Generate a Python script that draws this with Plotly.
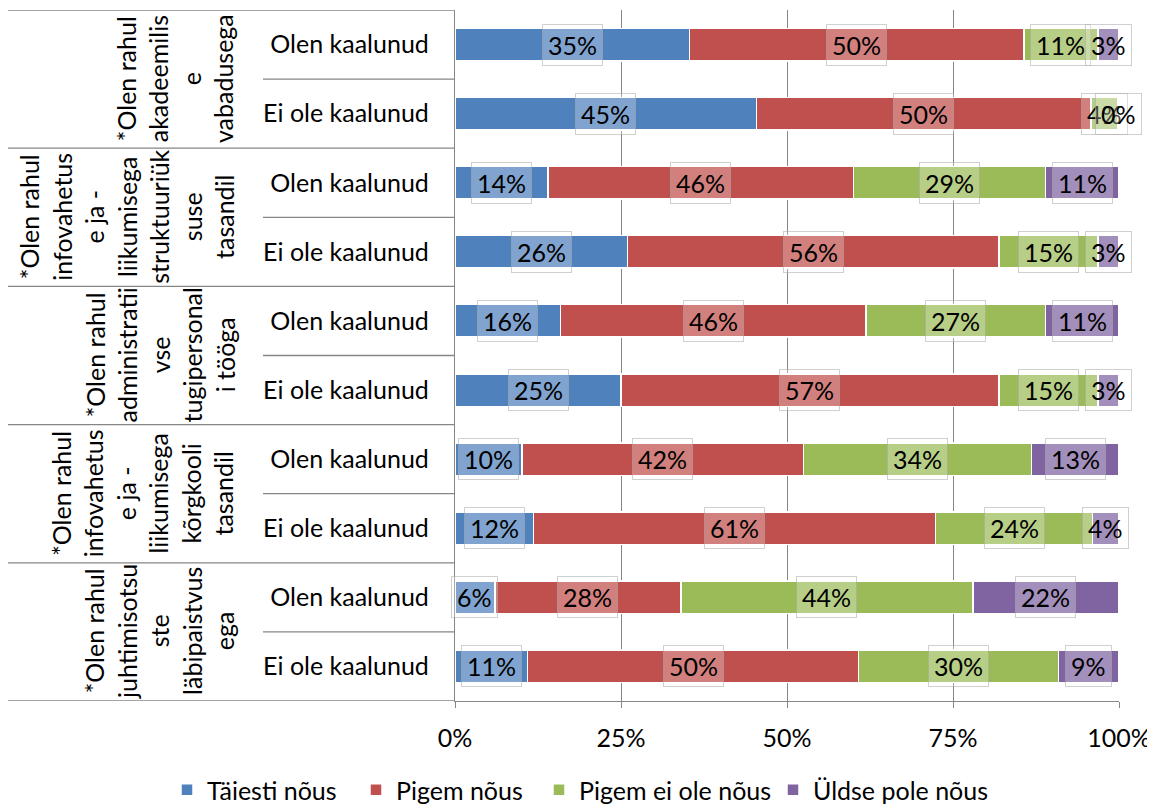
import plotly.graph_objects as go

# ---- data ----
series_names = ["Täiesti nõus", "Pigem nõus", "Pigem ei ole nõus", "Üldse pole nõus"]
series_colors = ["#4F81BD", "#C0504D", "#9BBB59", "#8064A2"]

group_labels = [
    "*Olen rahul<br>akadeemilis<br>e<br>vabadusega",
    "*Olen rahul<br>infovahetus<br>e ja -<br>liikumisega<br>struktuuriük<br>suse<br>tasandil",
    "*Olen rahul<br>administratii<br>vse<br>tugipersonal<br>i tööga",
    "*Olen rahul<br>infovahetus<br>e ja -<br>liikumisega<br>kõrgkooli<br>tasandil",
    "*Olen rahul<br>juhtimisotsu<br>ste<br>läbipaistvus<br>ega",
]
sub_labels = ["Olen kaalunud", "Ei ole kaalunud"]

# rows top -> bottom (group 1 Olen, group 1 Ei ole, group 2 Olen, ...)
taiesti = [35.3, 45.4, 14.0, 26.0, 15.9, 25.0, 10.1, 11.8, 6.0, 10.9]
pigem = [50.4, 50.4, 46.0, 55.9, 46.0, 56.9, 42.4, 60.6, 28.0, 49.9]
pigem_ei = [11.1, 4.0, 28.9, 14.9, 27.0, 14.9, 34.3, 23.6, 44.0, 30.1]
uldse = [3.2, 0.2, 11.1, 3.2, 11.1, 3.2, 13.2, 4.0, 22.0, 9.1]
series_values = [taiesti, pigem, pigem_ei, uldse]

x_ticks = [0, 25, 50, 75, 100]
x_ticktext = ["0%", "25%", "50%", "75%", "100%"]

# ---- layout constants ----
FONT = "Lato"
FS = 25
OFF = 8  # page body margin in the browser
W, H = 1155 - OFF, 805 - OFF
ML, MR, MT, MB = 455 - OFF, 36, 10 - OFF, 104
PW = W - ML - MR
PH = H - MT - MB
GRAY = "#868686"
legend_square_px = [186, 375, 558, 792]  # window x of each legend swatch

n_rows = len(taiesti)
rows = list(range(n_rows))
row_sub = [sub_labels[i % 2] for i in rows]

def px_to_paper(px_window):
    return (px_window - OFF - ML) / PW

def py_to_paper(py_window):
    return (MT + PH - (py_window - OFF)) / PH

legend_ids = ["legend", "legend2", "legend3", "legend4"]

fig = go.Figure()
for name, color, vals, lid in zip(series_names, series_colors, series_values, legend_ids):
    fig.add_trace(go.Bar(
        y=rows, x=vals, orientation="h", name=name, legend=lid,
        marker=dict(color=color, line=dict(color="white", width=1.5)),
        hoverinfo="skip",
    ))

# data labels (centered in each segment)
annotations = []
cum = [0.0] * n_rows
for vals in series_values:
    for i, v in enumerate(vals):
        annotations.append(dict(
            x=cum[i] + v / 2, y=i, xref="x", yref="y",
            text=f"{v:.0f}%", showarrow=False,
            font=dict(family=FONT, size=FS, color="black"),
            bgcolor="rgba(255,255,255,0.28)",
            bordercolor="rgba(170,170,170,0.55)", borderwidth=1, borderpad=5,
        ))
        cum[i] += v

# group labels (rotated)
for g, lab in enumerate(group_labels):
    annotations.append(dict(
        x=px_to_paper(241), y=2 * g + 0.5, xref="paper", yref="y",
        xanchor="right", yanchor="middle",
        text=lab, textangle=-90, showarrow=False, align="center",
        font=dict(family=FONT, size=FS, color="black"),
    ))

# table lines on the left
shapes = []
n_groups = len(group_labels)
for g in range(n_groups + 1):
    yb = 2 * g - 0.5
    shapes.append(dict(type="line", xref="paper", yref="y",
                       x0=px_to_paper(8), x1=0, y0=yb, y1=yb,
                       line=dict(color=GRAY, width=1.3)))
for g in range(n_groups):
    ym = 2 * g + 0.5
    shapes.append(dict(type="line", xref="paper", yref="y",
                       x0=px_to_paper(263), x1=0, y0=ym, y1=ym,
                       line=dict(color=GRAY, width=1.3)))

layout_kwargs = {}
for lid, sq in zip(legend_ids, legend_square_px):
    layout_kwargs[lid] = dict(
        orientation="h", xref="paper", yref="paper",
        x=px_to_paper(sq - 19), y=py_to_paper(790),
        xanchor="left", yanchor="middle",
        font=dict(family=FONT, size=FS, color="black"),
        itemwidth=30, bgcolor="rgba(0,0,0,0)",
    )

fig.update_layout(
    barmode="stack",
    bargap=0.53,
    width=W, height=H,
    margin=dict(l=ML, r=MR, t=MT, b=MB, autoexpand=False),
    paper_bgcolor="white", plot_bgcolor="white",
    font=dict(family=FONT, size=FS, color="black"),
    annotations=annotations,
    shapes=shapes,
    showlegend=True,
    **layout_kwargs,
)
fig.update_xaxes(
    range=[0, 100], tickvals=x_ticks, ticktext=x_ticktext,
    showgrid=True, gridcolor=GRAY, gridwidth=1,
    showline=True, linecolor=GRAY, linewidth=1,
    ticks="outside", ticklen=6, tickcolor=GRAY,
    ticklabelstandoff=9, zeroline=False,
    tickfont=dict(family=FONT, size=FS, color="black"),
)
fig.update_yaxes(
    range=[n_rows - 0.5, -0.5], tickvals=rows, ticktext=row_sub,
    showgrid=False, zeroline=False,
    showline=True, linecolor=GRAY, linewidth=1.3,
    ticks="", ticklabelstandoff=20,
    tickfont=dict(family=FONT, size=FS, color="black"),
)

fig.write_html("out.html")
